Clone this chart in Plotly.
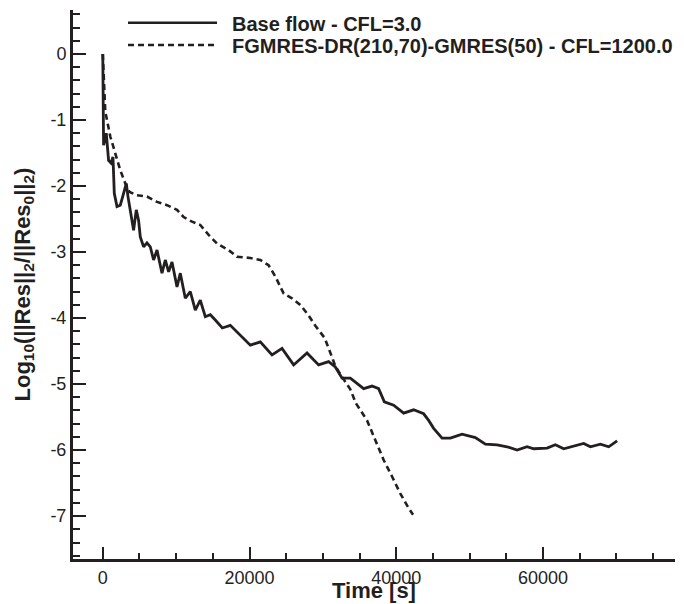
import plotly.graph_objects as go

# ---- data ----
base_time = [0, 68, 109, 341, 477, 791, 1118, 1391, 1568, 1936, 2386, 2836, 3204, 3436,
             3749, 4199, 4567, 4881, 5113, 5563, 6026, 6476, 6926, 7390, 8071, 8521,
             8971, 9435, 10116, 10566, 11248, 11930, 12611, 13293, 13975, 14657, 15338,
             16292, 17383, 18474, 20110, 21474, 23069, 24432, 26014, 27841, 29422,
             30786, 31699, 32613, 33744, 35558, 36703, 37603, 38380, 39648, 41011,
             42375, 43738, 44420, 45102, 46247, 47379, 48974, 50787, 52151, 53746,
             55110, 56473, 57837, 58736, 60563, 61695, 62826, 64190, 65553, 66467,
             67830, 68962, 70107]
base_res = [0.0, -0.70, -1.38, -1.27, -1.20, -1.61, -1.65, -1.56, -2.11, -2.31, -2.29,
            -2.11, -1.96, -2.16, -2.36, -2.67, -2.36, -2.52, -2.77, -2.92, -2.86, -2.92,
            -3.12, -2.97, -3.32, -3.12, -3.30, -3.15, -3.53, -3.32, -3.70, -3.60, -3.88,
            -3.73, -3.98, -3.95, -4.03, -4.15, -4.11, -4.23, -4.41, -4.36, -4.56, -4.46,
            -4.71, -4.53, -4.71, -4.66, -4.74, -4.91, -4.91, -5.07, -5.03, -5.07, -5.27,
            -5.32, -5.44, -5.39, -5.45, -5.55, -5.67, -5.82, -5.82, -5.76, -5.81, -5.91,
            -5.92, -5.95, -6.00, -5.95, -5.98, -5.97, -5.92, -5.98, -5.94, -5.90, -5.95,
            -5.91, -5.95, -5.86]

fg_time = [0, 340, 1022, 1704, 2386, 3067, 3654, 4663, 6026, 7390, 8753, 10116, 11025,
           12170, 13293, 14425, 15561, 17144, 18283, 20110, 21474, 22606, 23519, 24659,
           25790, 26922, 28053, 29000, 30240, 31100, 31700, 32722, 33744, 34500, 36021,
           37154, 38285, 39430, 40562, 41693, 42293]
fg_res = [0.0, -0.87, -1.25, -1.50, -1.76, -1.96, -2.09, -2.14, -2.16, -2.24, -2.29,
          -2.36, -2.47, -2.54, -2.59, -2.74, -2.87, -2.97, -3.07, -3.09, -3.12, -3.20,
          -3.37, -3.63, -3.70, -3.80, -3.96, -4.12, -4.30, -4.55, -4.73, -4.91, -5.08,
          -5.29, -5.55, -5.85, -6.15, -6.40, -6.66, -6.88, -6.98]

series_names = ["Base flow - CFL=3.0", "FGMRES-DR(210,70)-GMRES(50) - CFL=1200.0"]
x_ticks = [0, 20000, 40000, 60000]
y_ticks = [0, -1, -2, -3, -4, -5, -6, -7]
x_title = "Time [s]"
y_title = "Log<sub>10</sub>(||Res||<sub>2</sub>/||Res<sub>0</sub>||<sub>2</sub>)"

INK = "#231f20"
FONT = "Liberation Sans, Arial, Helvetica, sans-serif"

fig = go.Figure()
fig.add_trace(go.Scatter(x=base_time, y=base_res, mode="lines", name=series_names[0],
                         line=dict(color=INK, width=2.8), showlegend=False))
fig.add_trace(go.Scatter(x=fg_time, y=fg_res, mode="lines", name=series_names[1],
                         line=dict(color=INK, width=2.6, dash="6px,4px"), showlegend=False))

W, H = 684, 604
L, R, T, B = 73, 9, 10, 45
pw, ph = W - L - R, H - T - B
def px2paper(px, py):
    return (px - L) / pw, (H - B - py) / ph

# legend drawn manually (long line samples as in the reference)
leg_rows = [(22.7, None), (45.0, "6px,4px")]
for (py, dash), name in zip(leg_rows, series_names):
    x0, y0 = px2paper(128, py)
    x1, _ = px2paper(217, py)
    fig.add_shape(type="line", xref="paper", yref="paper", x0=x0, x1=x1, y0=y0, y1=y0,
                  line=dict(color=INK, width=2.6, dash=dash))
    tx, ty = px2paper(230, py + 1)
    fig.add_annotation(xref="paper", yref="paper", x=tx, y=ty, xanchor="left",
                       yanchor="middle", showarrow=False, text="<b>" + name + "</b>",
                       font=dict(family=FONT, size=20, color=INK))

# axis titles
fig.add_annotation(xref="paper", yref="paper", x=0.5, y=0, yanchor="top", yshift=-17,
                   showarrow=False, text="<b>" + x_title + "</b>",
                   font=dict(family=FONT, size=22, color=INK))
fig.add_annotation(xref="paper", yref="paper", x=0, y=0.5, xanchor="center", xshift=-50,
                   textangle=-90, showarrow=False, text="<b>" + y_title + "</b>",
                   font=dict(family=FONT, size=22, color=INK))

fig.update_layout(
    width=W, height=H,
    margin=dict(l=L, r=R, t=T, b=B, autoexpand=False),
    paper_bgcolor="white", plot_bgcolor="white",
    font=dict(family=FONT, color=INK),
)
fig.update_xaxes(
    range=[-4060, 78000], showgrid=False, zeroline=False,
    showline=True, linewidth=3, linecolor=INK, mirror=False,
    tickvals=x_ticks, ticktext=[str(v) for v in x_ticks],
    ticks="inside", ticklen=12, tickwidth=2, tickcolor=INK,
    tickfont=dict(family=FONT, size=18, color=INK),
    minor=dict(dtick=5000, tick0=0, ticks="inside", ticklen=6, tickwidth=1.5, tickcolor=INK),
    automargin=False,
)
fig.update_yaxes(
    range=[-7.65, 0.667], showgrid=False, zeroline=False,
    showline=True, linewidth=3, linecolor=INK, mirror=False,
    tickvals=y_ticks, ticktext=[str(v) for v in y_ticks],
    ticks="inside", ticklen=13, tickwidth=2, tickcolor=INK,
    tickfont=dict(family=FONT, size=18, color=INK),
    minor=dict(dtick=0.2, tick0=0, ticks="inside", ticklen=7, tickwidth=1.5, tickcolor=INK),
    automargin=False,
)

# remove the browser's default 8px page margin so the figure sits at (0, 0)
fig.write_html("out.html", config={"displayModeBar": False},
               post_script="document.body.style.margin='0px';")
